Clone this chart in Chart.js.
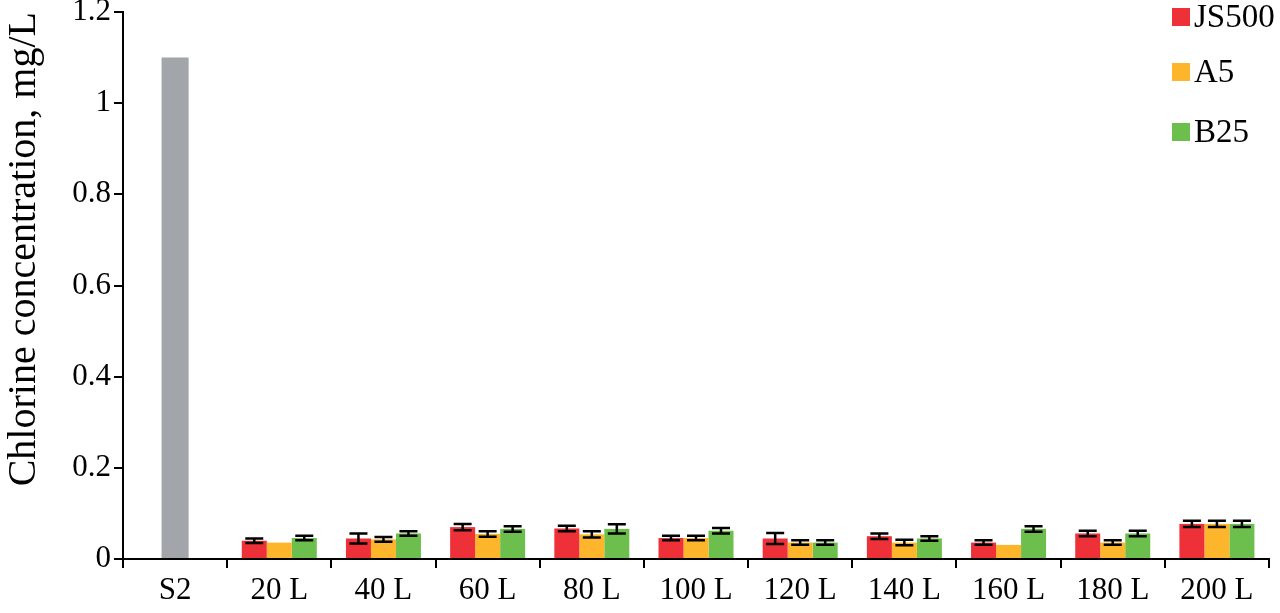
<!DOCTYPE html>
<html>
<head>
<meta charset="utf-8">
<script src="https://cdn.jsdelivr.net/npm/chart.js@4"></script>
<style>
  html, body { margin: 0; padding: 0; background: #fff; }
  #wrap { width: 1280px; height: 613px; }
</style>
</head>
<body>
<div id="wrap"><canvas id="myChart" width="1280" height="613"></canvas></div>
<script>
const labels = ['S2', '20 L', '40 L', '60 L', '80 L', '100 L', '120 L', '140 L', '160 L', '180 L', '200 L'];

const s2Values = [1.1, null, null, null, null, null, null, null, null, null, null];

const js500 = [null, 0.040, 0.045, 0.070, 0.067, 0.046, 0.045, 0.050, 0.036, 0.056, 0.077];
const a5 =    [null, 0.036, 0.043, 0.055, 0.054, 0.046, 0.036, 0.036, 0.031, 0.036, 0.077];
const b25 =   [null, 0.046, 0.056, 0.066, 0.066, 0.062, 0.036, 0.045, 0.066, 0.056, 0.077];

const js500Err = [0, 0.005, 0.011, 0.007, 0.006, 0.005, 0.012, 0.006, 0.005, 0.006, 0.007];
const a5Err =    [0, 0,     0.005, 0.006, 0.007, 0.005, 0.005, 0.006, 0,     0.005, 0.007];
const b25Err =   [0, 0.005, 0.005, 0.006, 0.010, 0.006, 0.005, 0.005, 0.006, 0.006, 0.007];

const yTicks = [0, 0.2, 0.4, 0.6, 0.8, 1, 1.2];

const FONT = '"Liberation Serif", "Times New Roman", Times, serif';

// black error bars with caps, drawn on top of the bars
const errorBars = {
    id: 'errorBars',
    afterDatasetsDraw(chart) {
        const ctx = chart.ctx;
        const y = chart.scales.y;
        chart.data.datasets.forEach((ds, di) => {
            if (!ds.errors) return;
            const meta = chart.getDatasetMeta(di);
            meta.data.forEach((bar, i) => {
                const v = ds.data[i];
                const e = ds.errors[i];
                if (v == null || !e) return;
                const top = y.getPixelForValue(v + e);
                const bot = y.getPixelForValue(v - e);
                const half = 9;
                ctx.save();
                ctx.strokeStyle = '#000';
                ctx.lineWidth = 2.5;
                ctx.beginPath();
                ctx.moveTo(bar.x, top);
                ctx.lineTo(bar.x, bot);
                ctx.moveTo(bar.x - half, top);
                ctx.lineTo(bar.x + half, top);
                ctx.moveTo(bar.x - half, bot);
                ctx.lineTo(bar.x + half, bot);
                ctx.stroke();
                ctx.restore();
            });
        });
    }
};

// legend in the top right corner, over the plot
const cornerLegend = {
    id: 'cornerLegend',
    afterDraw(chart) {
        const ctx = chart.ctx;
        const rows = [17, 72, 132];
        let r = 0;
        chart.data.datasets.forEach(ds => {
            if (!ds.errors) return;
            const cy = rows[r++];
            ctx.save();
            ctx.fillStyle = ds.backgroundColor;
            ctx.fillRect(1172, cy - 9, 18, 18);
            ctx.fillStyle = '#000';
            ctx.font = '33px ' + FONT;
            ctx.textBaseline = 'middle';
            ctx.fillText(ds.label, 1194, cy + 1);
            ctx.restore();
        });
    }
};

const ctx = document.getElementById('myChart');

new Chart(ctx, {
    type: 'bar',
    data: {
        labels: labels,
        datasets: [
            {
                label: 'S2',
                data: s2Values,
                backgroundColor: '#A2A6AA',
                grouped: false,
                categoryPercentage: 1,
                barPercentage: 0.26,
            },
            {
                label: 'JS500',
                data: js500,
                errors: js500Err,
                backgroundColor: '#EE3139',
                categoryPercentage: 0.72,
                barPercentage: 1,
            },
            {
                label: 'A5',
                data: a5,
                errors: a5Err,
                backgroundColor: '#FDB52C',
                categoryPercentage: 0.72,
                barPercentage: 1,
            },
            {
                label: 'B25',
                data: b25,
                errors: b25Err,
                backgroundColor: '#6CBF4C',
                categoryPercentage: 0.72,
                barPercentage: 1,
            }
        ]
    },
    options: {
        responsive: false,
        animation: false,
        devicePixelRatio: 1,
        layout: {
            padding: { top: 0, right: 11, left: 0, bottom: 0 }
        },
        plugins: {
            legend: { display: false },
            tooltip: { enabled: false }
        },
        scales: {
            x: {
                grid: {
                    drawOnChartArea: false,
                    color: '#000',
                    lineWidth: 2,
                    tickLength: 9,
                },
                border: { color: '#000', width: 2 },
                ticks: {
                    color: '#000',
                    font: { family: FONT, size: 31 },
                    padding: 4,
                    maxRotation: 0,
                },
                afterFit(scale) { scale.height = 54; }
            },
            y: {
                min: 0,
                max: 1.2,
                afterBuildTicks(scale) {
                    scale.ticks = yTicks.map(v => ({ value: v }));
                },
                grid: {
                    drawOnChartArea: false,
                    color: '#000',
                    lineWidth: 2,
                    tickLength: 9,
                },
                border: { color: '#000', width: 2 },
                ticks: {
                    color: '#000',
                    font: { family: FONT, size: 31 },
                    padding: 3,
                    callback: v => String(+v.toFixed(1)),
                },
                title: {
                    display: true,
                    align: 'end',
                    text: 'Chlorine concentration, mg/L',
                    color: '#000',
                    font: { family: FONT, size: 40 },
                    padding: { top: 0, bottom: 2 },
                },
                afterFit(scale) {
                    scale.width = 123;
                    scale.paddingTop = 12;
                }
            }
        }
    },
    plugins: [errorBars, cornerLegend]
});
</script>
</body>
</html>
